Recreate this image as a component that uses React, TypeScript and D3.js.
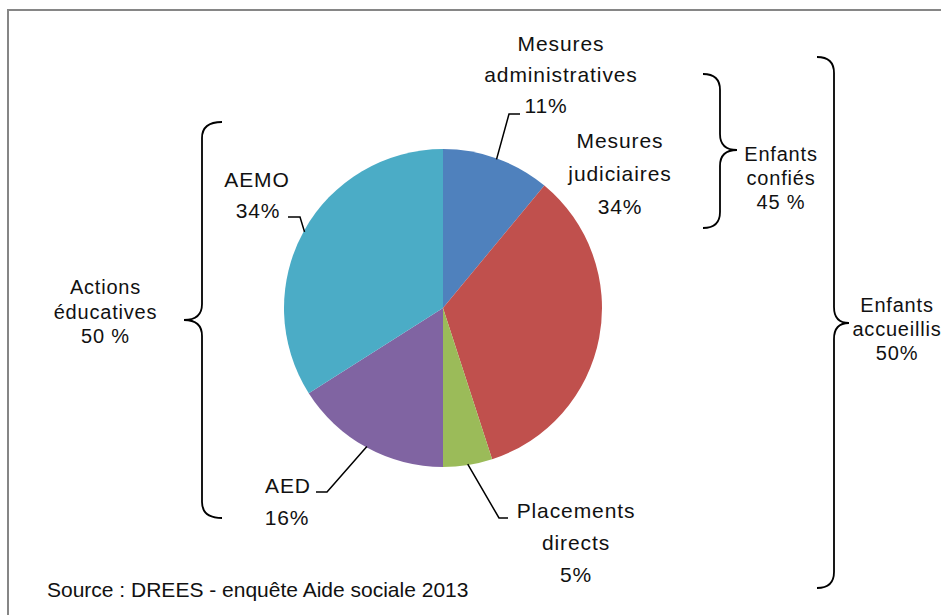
import React, { useEffect, useRef } from 'react';
import * as d3 from 'd3';

// slices, clockwise from 12 o'clock
const categories = ['Mesures administratives', 'Mesures judiciaires', 'Placements directs', 'AED', 'AEMO'];
const values = [11, 34, 5, 16, 34];
const colors = ['#4F81BD', '#C0504D', '#9BBB59', '#8064A2', '#4BACC6'];
const labelLines = [
  ['Mesures', 'administratives', '11%'],
  ['Mesures', 'judiciaires', '34%'],
  ['Placements', 'directs', '5%'],
  ['AED', '16%'],
  ['AEMO', '34%'],
];

// brackets grouping the slices
const groupLabels = [
  ['Enfants', 'confiés', '45 %'],
  ['Enfants', 'accueillis', '50%'],
  ['Actions', 'éducatives', '50 %'],
];

const W = 941;
const H = 615;

const App = () => {
  const ref = useRef<SVGSVGElement | null>(null);

  useEffect(() => {
    const svg = d3.select(ref.current);
    svg.selectAll('*').remove();

    svg.append('rect')
      .attr('x', 8).attr('y', 10).attr('width', 960).attr('height', 640)
      .attr('fill', '#fff').attr('stroke', '#868686').attr('stroke-width', 2);

    const cx = 443, cy = 308, r = 159;
    const g = svg.append('g').attr('transform', `translate(${cx},${cy})`);

    const pie = d3.pie<number>().sort(null).value(d => d);
    const arc = d3.arc<d3.PieArcDatum<number>>().innerRadius(0).outerRadius(r);
    const arcs = pie(values);

    g.selectAll('path.slice')
      .data(arcs)
      .enter()
      .append('path')
      .attr('class', 'slice')
      .attr('d', arc)
      .attr('fill', (d, i) => colors[i]);

    // label layout: text anchor x, first baseline, and the elbow of the leader line
    const labelPos = [
      { x: [561, 561, 546], y: 51, elbow: [509, 114], end: 520 },
      { x: [620, 620, 620], y: 148, elbow: null, end: 0 },
      { x: [576, 576, 576], y: 518, elbow: [499, 518], end: 508 },
      { x: [288, 287], y: 493, elbow: [327, 492], end: 316 },
      { x: [257, 258], y: 187, elbow: [300, 217], end: 288 },
    ];
    const lineGaps = [31, 33, 32, 32, 31];

    arcs.forEach((a, i) => {
      const p = labelPos[i];
      if (p.elbow) {
        const mid = (a.startAngle + a.endAngle) / 2;
        const ex = cx + Math.sin(mid) * (r - 1);
        const ey = cy - Math.cos(mid) * (r - 1);
        svg.append('path')
          .attr('d', `M${ex},${ey}L${p.elbow[0]},${p.elbow[1]}L${p.end},${p.elbow[1]}`)
          .attr('fill', 'none').attr('stroke', '#000').attr('stroke-width', 1.5);
      }
      labelLines[i].forEach((t, j) => {
        svg.append('text')
          .attr('x', p.x[j]).attr('y', p.y + j * lineGaps[i])
          .attr('text-anchor', 'middle')
          .attr('font-family', '"Liberation Sans", Arial, sans-serif')
          .attr('font-size', 21)
          .attr('letter-spacing', 0.9)
          .attr('fill', '#111')
          .text(t);
      });
    });

    // curly braces
    const brace = (xv: number, y1: number, y2: number, ym: number, xEnd: number, xTip: number) => {
      const rr = 16;
      const d = `M${xEnd},${y1}Q${xv},${y1} ${xv},${y1 + rr}L${xv},${ym - rr}Q${xv},${ym} ${xTip},${ym}` +
        `Q${xv},${ym} ${xv},${ym + rr}L${xv},${y2 - rr}Q${xv},${y2} ${xEnd},${y2}`;
      svg.append('path').attr('d', d).attr('fill', 'none').attr('stroke', '#000').attr('stroke-width', 1.8);
    };
    brace(720, 74, 228, 150, 703, 737);
    brace(834, 57, 588, 323, 817, 849);
    brace(202, 122, 518, 320, 222, 184);

    const groupPos = [
      { x: 781, y: 161, gap: 24 },
      { x: 897, y: 312, gap: 24 },
      { x: 105.5, y: 294, gap: 24.5 },
    ];
    groupLabels.forEach((lines, i) => {
      lines.forEach((t, j) => {
        svg.append('text')
          .attr('x', groupPos[i].x).attr('y', groupPos[i].y + j * groupPos[i].gap)
          .attr('text-anchor', 'middle')
          .attr('font-family', '"Liberation Sans", Arial, sans-serif')
          .attr('font-size', 20)
          .attr('letter-spacing', 0.8)
          .attr('fill', '#111')
          .text(t);
      });
    });

    svg.append('text')
      .attr('x', 47).attr('y', 597)
      .attr('font-family', '"Liberation Sans", Arial, sans-serif')
      .attr('font-size', 21)
      .attr('letter-spacing', 0)
      .attr('fill', '#111')
      .text('Source : DREES - enquête Aide sociale 2013');
  }, []);

  return (
    <div style={{ position: 'absolute', left: 0, top: 0 }}>
      <svg ref={ref} width={W} height={H} style={{ display: 'block', background: '#fff' }} />
    </div>
  );
};

export default App;
